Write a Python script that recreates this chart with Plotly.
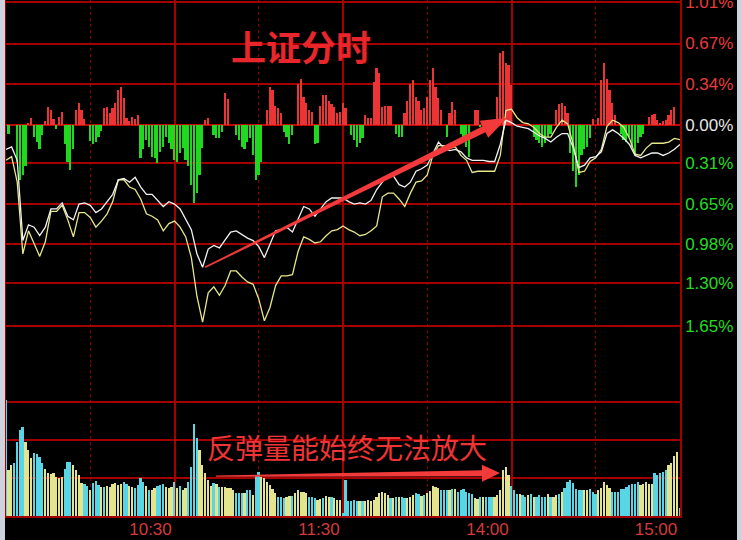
import math
import plotly.graph_objects as go

# ---------------- data ----------------
# minutes since 9:30 (lunch break removed: 120 = 11:30/13:00, 240 = 15:00)
line_min = list(range(0, 241, 2))

index_pct = [
    -0.20, -0.18, -0.29, -0.95, -0.82, -0.84, -0.91, -0.84, -0.69, -0.69,
    -0.64, -0.75, -0.78, -0.65, -0.64, -0.66, -0.72, -0.69, -0.63, -0.57,
    -0.45, -0.44, -0.47, -0.43, -0.51, -0.57, -0.57, -0.62, -0.67, -0.63,
    -0.65, -0.69, -0.77, -0.86, -1.06, -1.17, -1.02, -0.99, -1.01, -0.94,
    -0.88, -0.87, -0.90, -0.93, -0.95, -1.00, -1.09, -0.98, -0.87, -0.86,
    -0.84, -0.88, -0.78, -0.67, -0.69, -0.75, -0.69, -0.63, -0.60, -0.60,
    -0.60, -0.63, -0.65, -0.64, -0.65, -0.62, -0.53, -0.47, -0.42, -0.42,
    -0.49, -0.51, -0.47, -0.38, -0.36, -0.33, -0.24, -0.14, -0.19, -0.21,
    -0.20, -0.22, -0.27, -0.29, -0.29, -0.29, -0.30, -0.30, -0.16, 0.04,
    0.02, -0.01, -0.02, -0.03, -0.06, -0.09, -0.11, -0.14, -0.10, -0.07,
    -0.07, -0.19, -0.35, -0.33, -0.27, -0.26, -0.22, -0.07, -0.04, -0.07,
    -0.11, -0.16, -0.25, -0.27, -0.25, -0.23, -0.23, -0.25, -0.23, -0.20,
    -0.16,
]

equal_pct = [
    -0.29, -0.26, -0.47, -1.06, -0.87, -0.97, -1.08, -0.96, -0.71, -0.71,
    -0.66, -0.78, -0.92, -0.72, -0.72, -0.76, -0.84, -0.79, -0.73, -0.63,
    -0.45, -0.45, -0.51, -0.53, -0.61, -0.73, -0.75, -0.78, -0.87, -0.81,
    -0.79, -0.84, -0.92, -1.09, -1.41, -1.62, -1.38, -1.33, -1.40, -1.32,
    -1.20, -1.20, -1.25, -1.29, -1.31, -1.43, -1.61, -1.50, -1.32, -1.24,
    -1.24, -1.23, -1.04, -0.92, -0.94, -0.97, -0.96, -0.91, -0.87, -0.86,
    -0.83, -0.86, -0.88, -0.91, -0.90, -0.87, -0.83, -0.59, -0.56, -0.56,
    -0.61, -0.67, -0.56, -0.47, -0.46, -0.41, -0.25, -0.17, -0.17, -0.19,
    -0.18, -0.25, -0.29, -0.39, -0.38, -0.38, -0.38, -0.38, -0.25, 0.12,
    0.13, 0.06, 0.02, 0.01, -0.02, -0.07, -0.10, -0.10, -0.02, 0.04,
    0.01, -0.16, -0.39, -0.38, -0.30, -0.27, -0.20, -0.01, 0.04, 0.02,
    -0.02, -0.11, -0.24, -0.25, -0.19, -0.15, -0.15, -0.15, -0.14, -0.11,
    -0.12,
]

# red / green breadth bars around the zero line: (minute, value)
breadth = [
    (1, -0.07), (4, -0.30), (5, -0.45), (6, -0.41), (7, -0.34), (8, 0.02), (9, 0.06),
    (10, -0.10), (11, -0.14), (12, -0.20), (13, -0.08),
    (14, 0.03), (15, 0.15), (16, 0.12), (17, 0.05), (18, -0.03), (19, 0.07), (20, 0.11),
    (21, -0.16), (22, -0.30), (23, -0.37), (24, -0.20),
    (25, 0.12), (26, 0.18), (27, 0.12), (28, 0.05),
    (30, -0.13), (31, -0.16), (32, -0.14), (33, -0.10), (34, -0.05),
    (35, 0.14), (36, 0.15), (37, 0.10), (38, 0.14), (39, 0.18), (40, 0.29), (41, 0.31),
    (42, 0.22), (43, 0.06), (44, 0.03), (45, 0.07), (46, 0.05), (47, 0.08),
    (48, -0.27), (49, -0.20), (50, -0.12), (51, -0.18), (52, -0.26), (53, -0.27),
    (54, -0.31), (55, -0.22), (56, -0.18), (57, -0.10), (58, -0.15), (59, -0.20),
    (60, -0.29), (61, -0.30), (62, -0.23), (63, -0.19), (64, -0.29), (65, -0.34),
    (66, -0.49), (67, -0.64), (68, -0.56), (69, -0.41), (70, -0.19),
    (71, 0.04), (72, 0.06), (74, -0.08), (75, -0.11), (76, -0.11), (77, -0.06),
    (78, 0.26), (79, 0.21),
    (82, -0.08), (83, -0.12), (84, -0.18), (85, -0.20), (86, -0.14), (87, -0.11),
    (88, -0.25), (89, -0.45), (90, -0.41), (91, -0.30),
    (93, 0.12), (94, 0.31), (95, 0.29), (96, 0.16), (97, 0.14), (98, 0.10),
    (99, -0.06), (100, -0.10), (101, -0.16), (102, -0.08),
    (104, 0.34), (105, 0.38), (106, 0.23), (107, 0.18), (108, 0.12), (109, 0.11),
    (110, -0.16), (111, -0.15),
    (112, 0.16), (113, 0.25), (114, 0.25), (115, 0.20), (116, 0.17), (117, 0.15),
    (118, 0.10), (119, 0.11), (120, 0.18), (121, 0.14),
    (123, -0.08), (124, -0.12), (125, -0.18), (126, -0.15), (127, -0.11),
    (128, 0.08), (129, 0.06), (130, 0.06), (131, 0.35), (132, 0.47), (133, 0.43),
    (134, 0.15), (135, 0.16), (136, 0.16), (137, 0.16),
    (139, -0.07), (140, -0.10), (141, -0.10),
    (142, 0.10), (143, 0.20), (144, 0.34), (145, 0.37), (146, 0.23), (147, 0.20),
    (148, 0.12), (149, 0.14), (150, 0.23), (151, 0.37), (152, 0.47), (153, 0.31),
    (154, 0.22), (155, 0.12), (157, -0.10), (158, 0.10), (159, 0.19), (160, 0.12),
    (162, -0.07), (163, -0.12), (164, -0.18), (165, -0.26), (167, 0.12), (168, 0.12),
    (169, -0.02),
    (175, 0.23), (176, 0.59), (177, 0.61), (178, 0.51), (179, 0.49), (180, 0.33),
    (188, -0.10), (189, -0.12), (190, -0.15), (191, -0.18), (192, -0.15), (193, -0.10),
    (194, -0.07), (196, 0.12), (197, 0.17), (198, 0.18), (199, 0.16), (200, 0.10),
    (201, -0.23), (202, -0.38), (203, -0.51), (204, -0.41), (205, -0.25), (206, -0.20),
    (207, -0.18), (208, -0.11), (209, 0.05), (211, 0.06),
    (212, 0.37), (213, 0.51), (214, 0.38), (215, 0.29), (216, 0.18), (217, 0.08),
    (219, -0.07), (220, -0.12), (221, -0.14), (222, -0.10), (223, -0.18), (224, -0.25),
    (225, -0.15), (226, -0.10), (227, -0.07),
    (229, 0.07), (230, 0.08), (231, 0.09), (232, 0.04), (233, 0.02), (234, 0.03),
    (235, 0.04), (236, 0.08), (237, 0.12), (238, 0.15),
]

# per-minute volume (grid units), morning 9:30-11:30 and afternoon 13:01-15:00
vol_am = [
    3.05, 1.21, 1.34, 1.39, 1.95, 2.26, 2.34, 1.95, 1.74, 1.53, 1.66, 1.63, 1.55, 1.39,
    1.24, 1.13, 1.11, 1.13, 1.03, 1.00, 1.03, 1.24, 1.42, 1.42, 1.34, 1.21, 1.08, 0.87,
    0.84, 0.79, 0.68, 0.87, 0.92, 0.82, 0.76, 0.76,
    0.79, 0.76, 0.84, 0.87, 0.82, 0.84, 0.89, 0.84, 0.79, 0.76,
    0.74, 0.82, 1.00, 0.89, 0.79, 0.68, 0.68, 0.74, 0.79, 0.82, 0.84, 0.76,
    0.74,
    0.76, 0.89, 0.74, 0.79, 0.68, 0.74, 0.89, 1.29, 2.42, 2.05, 1.74, 1.34, 1.13, 0.95,
    0.79, 0.87, 0.84, 0.76, 0.76, 0.76, 0.74, 0.74, 0.68, 0.61, 0.61,
    0.61, 0.61, 0.68, 0.68, 0.55, 1.08, 1.16, 1.03, 1.00, 0.89, 0.82, 0.71, 0.61, 0.50,
    0.50, 0.47, 0.50, 0.53, 0.53, 0.61, 0.68, 0.63, 0.63, 0.61, 0.50, 0.50, 0.47, 0.42,
    0.45, 0.47, 0.53, 0.50, 0.50, 0.47, 0.42, 0.42, 0.08,
]
vol_pm = [
    0.95, 0.39, 0.40, 0.42, 0.39, 0.40, 0.39, 0.40, 0.42, 0.40,
    0.42, 0.50, 0.61, 0.63, 0.61, 0.55, 0.47, 0.47,
    0.50, 0.49, 0.49, 0.47,
    0.47, 0.49, 0.55, 0.61, 0.58, 0.53, 0.55, 0.61, 0.66, 0.79, 0.76, 0.75, 0.68, 0.68,
    0.68, 0.68, 0.70, 0.72, 0.63, 0.68, 0.72, 0.63, 0.61, 0.59, 0.47, 0.44, 0.49, 0.49,
    0.49, 0.49, 0.49, 0.49, 0.55, 0.68, 1.21, 1.28, 1.08, 0.79, 0.68, 0.59, 0.59, 0.55,
    0.50, 0.55, 0.59, 0.50, 0.49,
    0.55, 0.50,
    0.50, 0.58, 0.50, 0.49, 0.55, 0.59, 0.63, 0.75, 0.89, 0.95, 0.86, 0.72, 0.68, 0.68,
    0.68,
    0.68, 0.70, 0.63, 0.59, 0.68, 0.75, 0.89, 0.82, 0.75, 0.63, 0.63, 0.63, 0.70, 0.72,
    0.76, 0.82, 0.85, 0.84, 0.89, 0.82, 0.84, 0.89, 0.85, 0.85, 1.13, 1.08, 1.13, 1.16,
    1.21, 1.34, 1.39, 1.58, 1.68, 0.21,
]
# bar direction per minute: C = cyan, Y = yellow
dir_am = ("CYYCCCCYYYCCCCYYYYYYYCCCYYYYCCYCCCYC" + "YYYYYYCCYY" + "CCCCYCYYCCCY" + "Y"
          + "YCYCYYCCCCYYYYYCYCYYYYYCC" + "CYCCYCCYYYYYYCCCYYCYYYYYCCCYYCYYCYYYC")
dir_pm = ("CCCCCYCYYY" + "YYYYYYCY" + "CYCC" + "YYYCCYCYYYYYCC"
          + "CYCYCCCCCCYYCYCCCYYYYYYCCCYCCYCYC" + "CC" + "CYCYYCYCCCCCCCY"
          + "YCCCYYYYYCCCCCCCCCCYYYYYCCCCCYYYYC")

price_ticks = [1.01, 0.67, 0.34, 0.00, -0.31, -0.65, -0.98, -1.30, -1.65]
time_ticks = [60, 120, 180, 240]
time_labels = ["10:30", "11:30", "14:00", "15:00"]
half_hours = [30, 90, 150, 210]

# ---------------- layout geometry ----------------
W, H = 741, 540
ML, MR, MT, MB = 6, 61, 0, 24
PW, PH = W - ML - MR, H - MT - MB
SPLIT = 364                      # px from top where volume panel begins
X_RANGE = [0, 240]
Y_RANGE = [-1.965, 1.028]
V_RANGE = [0, 4]
main_dom = [1 - SPLIT / PH, 1]
vol_dom = [0, 1 - SPLIT / PH]

GRID = "#a30000"
RED_TXT = "#e83c3c"
GREEN_TXT = "#22dd22"


def px_x(m):
    return ML + (m - X_RANGE[0]) / (X_RANGE[1] - X_RANGE[0]) * PW


def px_main(p):
    return MT + (Y_RANGE[1] - p) / (Y_RANGE[1] - Y_RANGE[0]) * SPLIT


def px_vol(v):
    return MT + SPLIT + (V_RANGE[1] - v) / (V_RANGE[1] - V_RANGE[0]) * (PH - SPLIT)


def tapered_arrow(p0, p1, w0, w1, head_len, head_w):
    (x0, y0), (x1, y1) = p0, p1
    dx, dy = x1 - x0, y1 - y0
    L = math.hypot(dx, dy)
    ux, uy = dx / L, dy / L
    nx, ny = -uy, ux
    bx, by = x1 - ux * head_len, y1 - uy * head_len
    pts = [(x0 + nx * w0, y0 + ny * w0), (bx + nx * w1, by + ny * w1),
           (bx + nx * head_w, by + ny * head_w), (x1, y1),
           (bx - nx * head_w, by - ny * head_w), (bx - nx * w1, by - ny * w1),
           (x0 - nx * w0, y0 - ny * w0)]
    return "M " + " L ".join(f"{(x - ML) / PW:.5f},{1 - (y - MT) / PH:.5f}" for x, y in pts) + " Z"


# ---------------- figure ----------------
fig = go.Figure()

b_min = [b[0] for b in breadth]
b_val = [b[1] for b in breadth]
fig.add_trace(go.Bar(
    x=b_min, y=b_val, width=0.6, yaxis="y", xaxis="x",
    marker=dict(color=["#ec3434" if v > 0 else "#1fd81f" for v in b_val], line_width=0),
    hoverinfo="skip", showlegend=False))

vol = vol_am + vol_pm
dirs = dir_am + dir_pm
vol_min = list(range(len(vol)))
fig.add_trace(go.Bar(
    x=vol_min, y=vol, width=0.62, yaxis="y2", xaxis="x",
    marker=dict(color=["#58d6e6" if d == "C" else "#e4e48e" for d in dirs[:len(vol)]], line_width=0),
    hoverinfo="skip", showlegend=False))

fig.add_trace(go.Scatter(x=line_min, y=equal_pct, mode="lines", yaxis="y", xaxis="x",
                         line=dict(color="#e6e68a", width=1.3), hoverinfo="skip", showlegend=False))
fig.add_trace(go.Scatter(x=line_min, y=index_pct, mode="lines", yaxis="y", xaxis="x",
                         line=dict(color="#f2f2f2", width=1.3), hoverinfo="skip", showlegend=False))


def tick_txt(v):
    s = f"{abs(v):.2f}%"
    if v > 0:
        c = RED_TXT
    elif v < 0:
        c = GREEN_TXT
    else:
        c = "#e6e6e6"
    return f"<span style='color:{c}'>{s}</span>"


fig.update_layout(
    width=W, height=H,
    margin=dict(l=ML, r=MR, t=MT, b=MB, pad=0, autoexpand=False),
    paper_bgcolor="black", plot_bgcolor="black",
    barmode="overlay", bargap=0,
    font=dict(family="Liberation Sans, Arial, sans-serif", size=17, color=RED_TXT),
    xaxis=dict(
        range=X_RANGE, domain=[0, 1], anchor="y2",
        tickvals=time_ticks, ticktext=time_labels, ticklabelshift=-24,
        ticklabelstandoff=-3,
        tickfont=dict(size=17, color="#d43a3a"), ticks="",
        ticklabeloverflow="allow", automargin=False,
        showgrid=True, gridcolor=GRID, gridwidth=1.5,
        minor=dict(tickvals=half_hours, showgrid=True, gridcolor="#8a0000",
                   griddash="dot", gridwidth=1.2),
        showline=True, linecolor=GRID, linewidth=1.5,
        zeroline=False, fixedrange=True,
    ),
    yaxis=dict(
        domain=main_dom, range=Y_RANGE, side="right",
        tickvals=price_ticks, ticktext=[tick_txt(v) for v in price_ticks],
        tickfont=dict(size=17), ticks="",
        ticklabeloverflow="allow", automargin=False,
        showgrid=True, gridcolor=GRID, gridwidth=1.5,
        zeroline=True, zerolinecolor="#c00808", zerolinewidth=2.2,
        showline=True, mirror=True, linecolor=GRID, linewidth=1.5,
        fixedrange=True,
    ),
    yaxis2=dict(
        domain=vol_dom, range=V_RANGE, anchor="x",
        tickvals=[1, 2, 3, 3.999], showticklabels=False, ticks="",
        showgrid=True, gridcolor=GRID, gridwidth=1.5,
        zeroline=False, automargin=False,
        showline=True, mirror=True, linecolor=GRID, linewidth=1.5,
        fixedrange=True,
    ),
)

# light frame strips at the image edges
fig.add_shape(type="rect", xref="paper", yref="paper",
              x0=(0 - ML) / PW, x1=(5 - ML) / PW, y0=1 - (H - MT) / PH, y1=1 + MT / PH,
              fillcolor="#ccd3de", line_width=0, layer="above")
fig.add_shape(type="rect", xref="paper", yref="paper",
              x0=(737 - ML) / PW, x1=(W - ML) / PW, y0=1 - (H - MT) / PH, y1=1 + MT / PH,
              fillcolor="#ccd3de", line_width=0, layer="above")

# arrows (anchored on data coordinates)
ARROW_PRICE = dict(start=(70.9, -1.17), tip=(178.5, 0.06))
ARROW_VOL = dict(start=(74.8, 1.05), tip=(175.9, 1.13))
p_s = (px_x(ARROW_PRICE["start"][0]), px_main(ARROW_PRICE["start"][1]))
p_t = (px_x(ARROW_PRICE["tip"][0]), px_main(ARROW_PRICE["tip"][1]))
fig.add_shape(type="path", xref="paper", yref="paper",
              path=tapered_arrow(p_s, p_t, 0.8, 3.3, 26, 9.5),
              fillcolor="#f23a3a", line_width=0, layer="above")
v_s = (px_x(ARROW_VOL["start"][0]), px_vol(ARROW_VOL["start"][1]))
v_t = (px_x(ARROW_VOL["tip"][0]), px_vol(ARROW_VOL["tip"][1]))
fig.add_shape(type="path", xref="paper", yref="paper",
              path=tapered_arrow(v_s, v_t, 0.6, 3.0, 18, 8.5),
              fillcolor="#f23a3a", line_width=0, layer="above")

# texts
fig.add_annotation(text="<b>上证分时</b>", xref="paper", yref="paper",
                   x=(301 - ML) / PW, y=1 - (45 - MT) / PH, showarrow=False,
                   xanchor="center", yanchor="middle",
                   font=dict(family="Noto Sans CJK SC", size=35, color="#e8262b"))
fig.add_annotation(text="反弹量能始终无法放大", xref="paper", yref="paper",
                   x=(347 - ML) / PW, y=1 - (447 - MT) / PH, showarrow=False,
                   xanchor="center", yanchor="middle",
                   font=dict(family="Noto Sans CJK SC", size=28, color="#ee3434"))

fig.write_html(
    "out.html",
    config={"displayModeBar": False},
    post_script="document.body.style.margin='0px';document.body.style.padding='0px';"
                "document.documentElement.style.overflow='hidden';",
)
